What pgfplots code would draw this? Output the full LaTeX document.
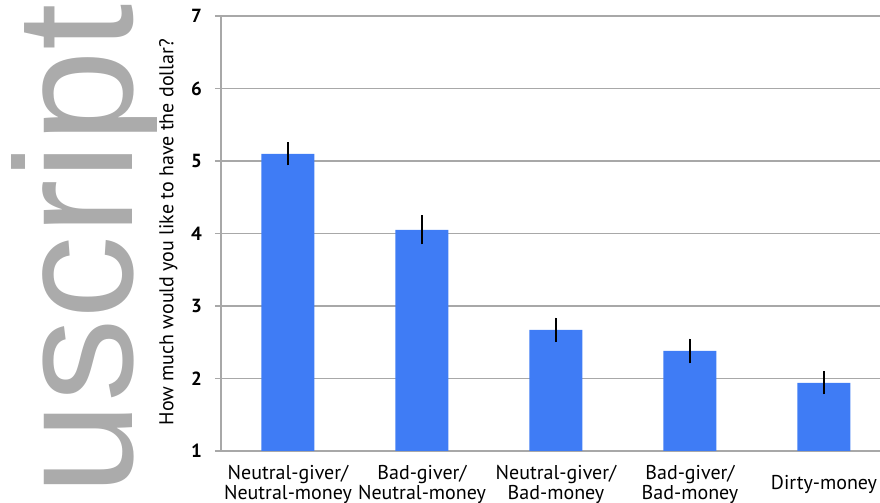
\documentclass[border=0pt]{standalone}
\usepackage{fontspec}
\setmainfont{PT Sans}
\newfontfamily\markfont{Liberation Sans}
\usepackage{pgfplots}
\pgfplotsset{compat=1.18}
\definecolor{barblue}{RGB}{63,124,245}
\definecolor{gridgray}{RGB}{168,168,168}
\definecolor{markgray}{RGB}{171,171,171}

\begin{document}
\begin{tikzpicture}[x=1pt,y=1pt]
% large grey side banner text
\node[rotate=90, anchor=base west, inner sep=0pt, text=markgray,
      font=\markfont\fontsize{83.5}{84}\selectfont] at (66.5,3.5) {uscript};

\begin{axis}[
  at={(110.5pt,26pt)}, anchor=south west,
  scale only axis, width=329.5pt, height=217.5pt,
  xmin=-0.5, xmax=4.418, ymin=1, ymax=7,
  ytick={1,...,7}, xtick={0,...,4},
  xticklabels={{Neutral-giver/\\Neutral-money},{Bad-giver/\\Neutral-money},
               {Neutral-giver/\\Bad-money},{Bad-giver/\\Bad-money},{Dirty-money}},
  xticklabel style={align=center, anchor=center, yshift=-13.6pt, inner sep=1pt,
                    font=\fontsize{10}{8.7}\selectfont},
  yticklabel style={font=\bfseries\fontsize{9.5}{11}\selectfont, xshift=-3pt},
  /pgf/number format/assume math mode=true,
  axis lines*=left,
  axis line style={gridgray, line width=0.75pt},
  ymajorgrids, major grid style={gridgray, line width=0.75pt},
  tick align=outside, major tick length=3pt,
  ytick style={gridgray, line width=0.75pt},
  xtick style={draw=none},
  ylabel={How much would you like to have the dollar?},
  ylabel style={at={(axis description cs:-0.080,0.503)}, anchor=center,
                fill=white, inner sep=1pt, font=\fontsize{10}{12}\selectfont},
]
\addplot[ybar, bar width=26.5pt, fill=barblue, draw=none,
  error bars/.cd, y dir=both, y explicit, error mark=none,
  error bar style={line width=1pt, black}]
  coordinates {
    (0,5.10) +- (0,0.16)
    (1,4.05) +- (0,0.20)
    (2,2.67) +- (0,0.17)
    (3,2.38) +- (0,0.17)
    (4,1.94) +- (0,0.16)
  };
\end{axis}
\pgfresetboundingbox
\useasboundingbox (0,0) rectangle (440,251.5);
\end{tikzpicture}
\end{document}
